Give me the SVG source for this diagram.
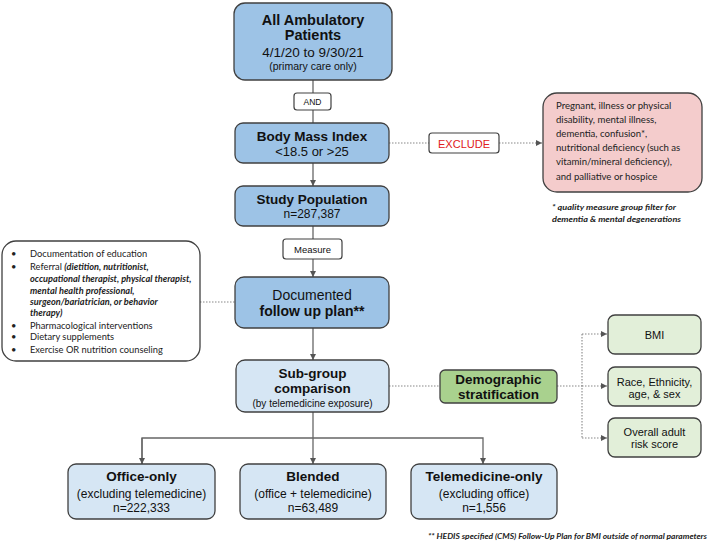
<svg xmlns="http://www.w3.org/2000/svg" width="709" height="550" viewBox="0 0 709 550">
<defs>
<marker id="ah" viewBox="0 0 10 10" refX="10" refY="5" markerWidth="6" markerHeight="6" orient="auto" markerUnits="userSpaceOnUse">
<path d="M0,0 L10,5 L0,10 z" fill="#555"/>
</marker>
</defs>
<style>
.blue{fill:#9dc3e6;stroke:#404040;stroke-width:1.3}
.lblue{fill:#d6e6f4;stroke:#404040;stroke-width:1.3}
.green{fill:#a9d18e;stroke:#404040;stroke-width:1.3}
.lgreen{fill:#e2efd9;stroke:#404040;stroke-width:1.3}
.pink{fill:#f4cccc;stroke:#404040;stroke-width:1.3}
.white{fill:#fff;stroke:#404040;stroke-width:1.2}
text{font-family:"Liberation Sans",Arial,sans-serif;fill:#111;text-anchor:middle}
.b{font-weight:bold}
.cal{font-family:"Lato","Liberation Sans",sans-serif;text-anchor:start;fill:#222}
.it{font-style:italic;font-weight:bold;font-size:9.2px}
.note{font-family:"Lato","Liberation Sans",sans-serif;font-weight:bold;font-style:italic;fill:#222;text-anchor:start}
.solid{fill:none;stroke:#666;stroke-width:1.3}
.dot{fill:none;stroke:#888;stroke-width:1.1;stroke-dasharray:1.5 1.5}
</style>

<g id="connectors">
<path class="solid" d="M313,80 V123"/>
<path class="solid" d="M313,163 V186" marker-end="url(#ah)"/>
<path class="solid" d="M313,226 V277" marker-end="url(#ah)"/>
<path class="solid" d="M313,328 V360" marker-end="url(#ah)"/>
<path class="solid" d="M313,412 V464" marker-end="url(#ah)"/>
<path class="solid" d="M142,464 V438 H483 V464" marker-end="url(#ah)"/>
<path class="solid" d="M142,438 V464" marker-end="url(#ah)"/>
<path class="dot" d="M389,143 H429"/>
<path class="dot" d="M499,143 H542" marker-end="url(#ah)"/>
<path class="dot" d="M200,302 H235"/>
<path class="dot" d="M389,386 H440"/>
<path class="dot" d="M557,386 H582"/>
<path class="dot" d="M582,334 V438"/>
<path class="dot" d="M582,334 H607" marker-end="url(#ah)"/>
<path class="dot" d="M582,386 H607" marker-end="url(#ah)"/>
<path class="dot" d="M582,438 H607" marker-end="url(#ah)"/>
</g>

<g id="all-patients">
<rect class="blue" x="234" y="3" width="158" height="77" rx="11"/>
<text class="b" x="313" y="25" font-size="14.5">All  Ambulatory</text>
<text class="b" x="313" y="40" font-size="14.5">Patients</text>
<text x="313" y="57" font-size="13.5">4/1/20 to 9/30/21</text>
<text x="313" y="70" font-size="10.5">(primary care only)</text>
</g>

<g id="and">
<rect class="white" x="294" y="93" width="37" height="17" rx="3"/>
<text x="312.5" y="105" font-size="8.5">AND</text>
</g>

<g id="bmi-index">
<rect class="blue" x="235" y="123" width="154" height="40" rx="8"/>
<text class="b" x="312" y="141" font-size="13.5">Body Mass Index</text>
<text x="312" y="156" font-size="13">&lt;18.5 or &gt;25</text>
</g>

<g id="exclude">
<rect class="white" x="429" y="133" width="70" height="20" rx="3"/>
<text x="464" y="147.5" font-size="11" style="fill:#e02020">EXCLUDE</text>
</g>

<g id="exclusions">
<rect class="pink" x="543" y="93" width="159" height="99" rx="14"/>
<text class="cal" x="556" y="108.5" font-size="9.6">Pregnant,  illness or physical</text>
<text class="cal" x="556" y="122.5" font-size="9.6">disability, mental illness,</text>
<text class="cal" x="556" y="137" font-size="9.6">dementia,  confusion*,</text>
<text class="cal" x="556" y="151" font-size="9.6">nutritional deficiency (such as</text>
<text class="cal" x="556" y="165" font-size="9.6">vitamin/mineral deficiency),</text>
<text class="cal" x="556" y="180" font-size="9.6">and palliative or hospice</text>
</g>

<g id="exclusion-note">
<text class="note" x="552" y="210" font-size="8.2" textLength="124" lengthAdjust="spacingAndGlyphs">* quality measure group filter for</text>
<text class="note" x="552" y="221.5" font-size="8.2" textLength="129" lengthAdjust="spacingAndGlyphs">dementia &amp; mental degenerations</text>
</g>

<g id="study-population">
<rect class="blue" x="235" y="186" width="154" height="40" rx="8"/>
<text class="b" x="312" y="204" font-size="13.5">Study Population</text>
<text x="312" y="217.5" font-size="12">n=287,387</text>
</g>

<g id="measure">
<rect class="white" x="283" y="239" width="59" height="20" rx="3"/>
<text x="312.5" y="253" font-size="9.5">Measure</text>
</g>

<g id="follow-up">
<rect class="blue" x="235" y="277" width="154" height="51" rx="9"/>
<text x="312" y="300" font-size="14">Documented</text>
<text class="b" x="312" y="316" font-size="14">follow  up plan**</text>
</g>

<g id="follow-up-list">
<rect x="2" y="241" width="198" height="120" rx="14" fill="#fff" stroke="#404040" stroke-width="1.3"/>
<g font-size="9.3">
<text class="cal" x="11" y="257">•</text>
<text class="cal" x="30" y="257">Documentation of education</text>
<text class="cal" x="11" y="270">•</text>
<text class="cal" x="30" y="270">Referral <tspan class="it">(dietition, nutritionist,</tspan></text>
<text class="cal it" x="30" y="281.5">occupational therapist, physical therapist,</text>
<text class="cal it" x="30" y="293.5">mental health professional,</text>
<text class="cal it" x="30" y="305">surgeon/bariatrician, or behavior</text>
<text class="cal it" x="30" y="316">therapy)</text>
<text class="cal" x="11" y="329">•</text>
<text class="cal" x="30" y="329">Pharmacological interventions</text>
<text class="cal" x="11" y="340">•</text>
<text class="cal" x="30" y="340">Dietary supplements</text>
<text class="cal" x="11" y="352.5">•</text>
<text class="cal" x="30" y="352.5">Exercise OR nutrition counseling</text>
</g>
</g>

<g id="subgroup">
<rect class="lblue" x="236" y="360" width="153" height="52" rx="9"/>
<text class="b" x="312.5" y="378" font-size="13.5">Sub-group</text>
<text class="b" x="312.5" y="393" font-size="13.5">comparison</text>
<text x="312.5" y="407" font-size="10">(by telemedicine exposure)</text>
</g>

<g id="demographic">
<rect class="green" x="440" y="370" width="117" height="33" rx="5"/>
<text class="b" x="498.5" y="384" font-size="13.5">Demographic</text>
<text class="b" x="498.5" y="399" font-size="13.5">stratification</text>
</g>

<g id="strat-bmi">
<rect class="lgreen" x="608" y="315" width="93" height="39" rx="7"/>
<text x="654.5" y="338.5" font-size="11">BMI</text>
</g>

<g id="strat-race">
<rect class="lgreen" x="608" y="367" width="93" height="39" rx="7"/>
<text x="654.5" y="386" font-size="11">Race, Ethnicity,</text>
<text x="654.5" y="397.5" font-size="11">age, &amp; sex</text>
</g>

<g id="strat-risk">
<rect class="lgreen" x="608" y="418" width="93" height="39" rx="7"/>
<text x="654.5" y="436" font-size="11">Overall  adult</text>
<text x="654.5" y="448" font-size="11">risk score</text>
</g>

<g id="office-only">
<rect class="lblue" x="68" y="464" width="147" height="55" rx="8"/>
<text class="b" x="141.5" y="481" font-size="13.5">Office-only</text>
<text x="141.5" y="497.5" font-size="12">(excluding telemedicine)</text>
<text x="141.5" y="512" font-size="12">n=222,333</text>
</g>

<g id="blended">
<rect class="lblue" x="240" y="464" width="146" height="55" rx="8"/>
<text class="b" x="313" y="481" font-size="13.5">Blended</text>
<text x="313" y="497.5" font-size="12">(office + telemedicine)</text>
<text x="313" y="512" font-size="12">n=63,489</text>
</g>

<g id="telemedicine-only">
<rect class="lblue" x="411" y="464" width="146" height="55" rx="8"/>
<text class="b" x="484" y="481" font-size="13.5">Telemedicine-only</text>
<text x="484" y="497.5" font-size="12">(excluding office)</text>
<text x="484" y="512" font-size="12">n=1,556</text>
</g>

<g id="footnote">
<text class="note" x="428" y="539" font-size="8.2" textLength="279" lengthAdjust="spacingAndGlyphs">** HEDIS specified (CMS) Follow-Up Plan for BMI outside of normal parameters</text>
</g>
</svg>
